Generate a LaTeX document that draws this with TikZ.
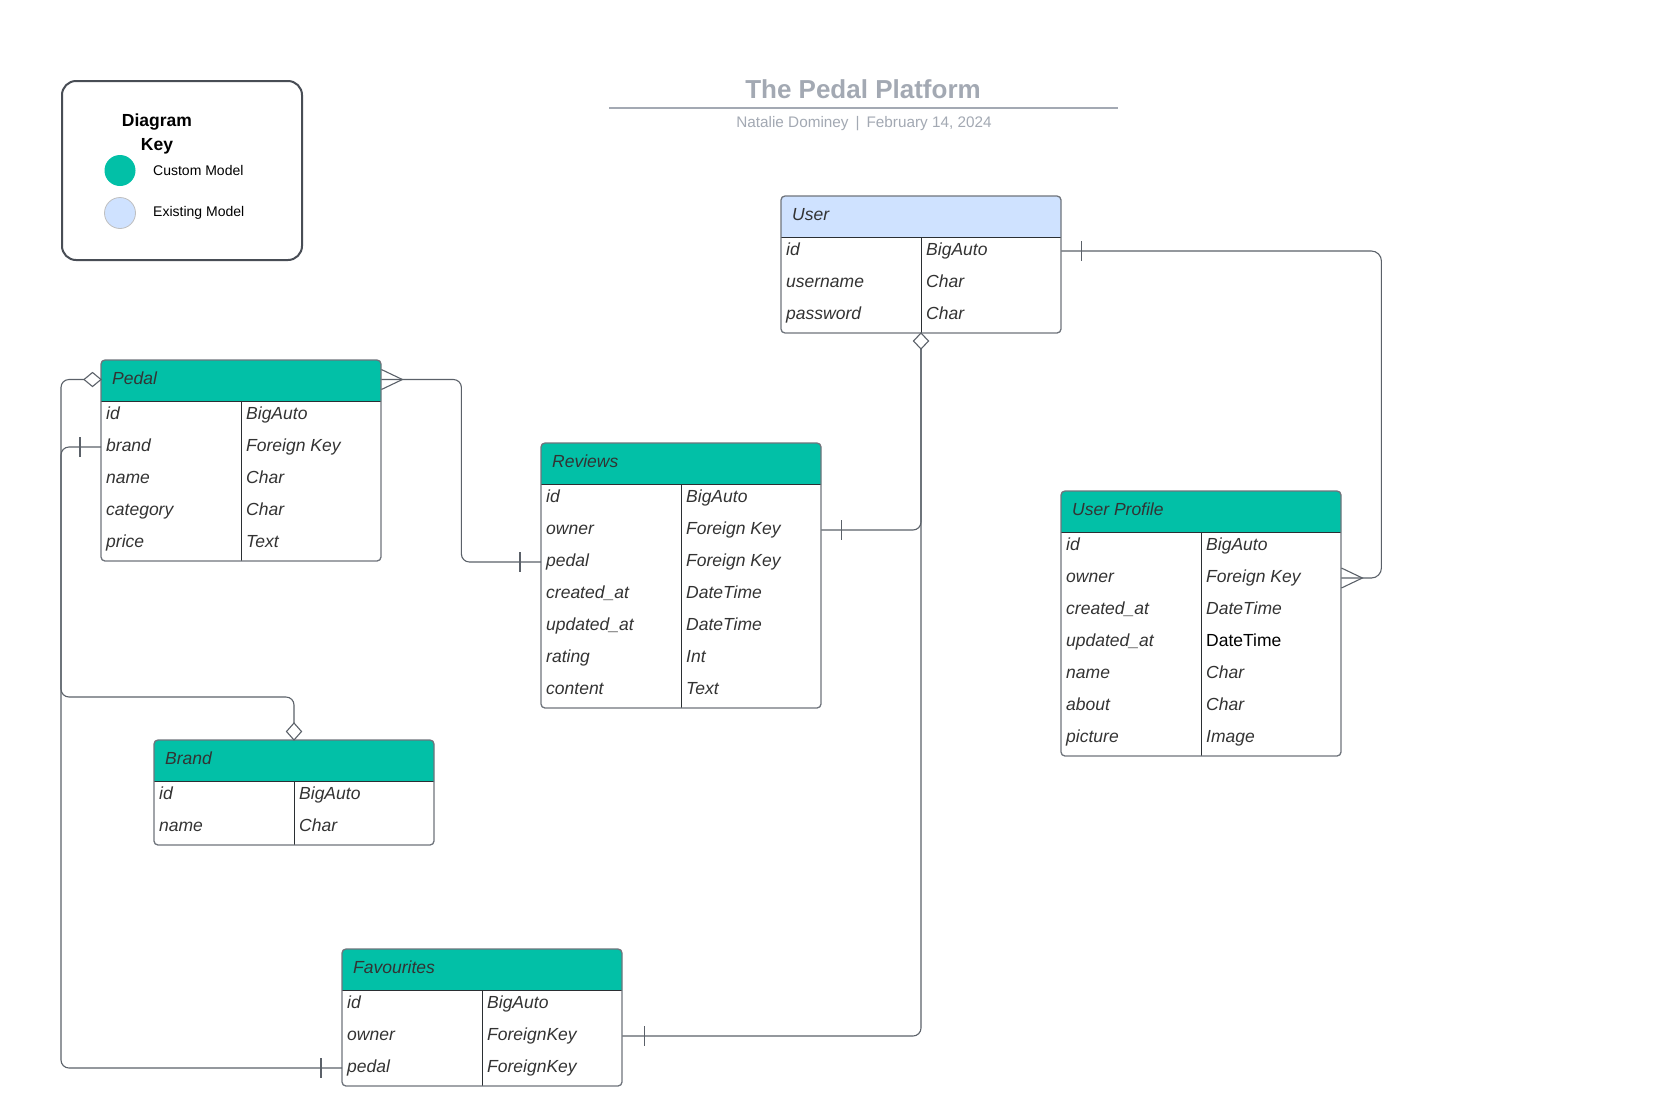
\documentclass[tikz,border=0pt]{standalone}
\usepackage{fontspec}
\setmainfont{Liberation Sans}
\usetikzlibrary{calc}
\definecolor{tealc}{HTML}{02C0A7}
\definecolor{bluec}{HTML}{CFE2FF}
\definecolor{connc}{HTML}{5B6169}
\definecolor{boxc}{HTML}{6F747C}
\definecolor{inkc}{HTML}{2B2F33}
\definecolor{txtc}{HTML}{333333}
\definecolor{titlec}{HTML}{A3A9B3}
\definecolor{legc}{HTML}{484D55}
\tikzset{
  conn/.style={draw=connc, line width=1.1pt},
  dmd/.style={draw=connc, fill=white, line width=1.1pt},
  hdrline/.style={draw=inkc, line width=1pt},
  boxline/.style={draw=boxc, line width=1.3pt},
  celltext/.style={anchor=west, inner sep=0pt, text height=12.5pt, text depth=3.5pt,
    font=\fontsize{17.5}{20}\selectfont\itshape, text=txtc},
  hdrtext/.style={celltext},
  tablebox/.style={anchor=north west, inner sep=0pt, minimum width=280pt},
}
% #1 name, #2 left, #3 top, #4 title, #5 header colour, #6 rows, #7 row list
\newcommand\ertable[7]{%
  \pgfmathsetmacro\erHB{#3+41}%
  \pgfmathsetmacro\erBT{#3+41+32*#6}%
  \fill[white, rounded corners=4pt] (#2,#3) rectangle (#2+280,\erBT);
  \begin{scope}
    \clip (#2-2,#3-2) rectangle (#2+282,\erHB);
    \fill[#5, rounded corners=4pt] (#2,#3) rectangle (#2+280,\erHB+8);
  \end{scope}
  \draw[hdrline] (#2,\erHB) -- (#2+280,\erHB);
  \draw[hdrline] (#2+140,\erHB) -- (#2+140,\erBT);
  \draw[boxline, rounded corners=4pt] (#2,#3) rectangle (#2+280,\erBT);
  \node[tablebox, minimum height=41+32*#6] (#1) at (#2,#3) {};
  \coordinate (#1-divb) at (#2+140,\erBT);
  \node[hdrtext] (#1-title) at (#2+11,#3+19.5) {#4};
  \foreach \ea/\eb [count=\ei] in {#7} {
    \node[celltext] (#1-r\ei) at (#2+5,#3+41+32*\ei-18) {\ea};
    \node[celltext] (#1-t\ei) at (#2+145,#3+41+32*\ei-18) {\eb};
  }
}
\begin{document}
\begin{tikzpicture}[x=1pt,y=-1pt]
\useasboundingbox (0,0) rectangle (1662,1109);
\fill[white] (0,0) rectangle (1662,1109);

% legend
\node[draw=legc, line width=2pt, rounded corners=14pt, minimum width=240pt,
  minimum height=179pt, anchor=north west, inner sep=0pt] (legend) at (61,80) {};
\node[font=\bfseries\fontsize{17.5}{24}\selectfont, align=center, inner sep=0pt] (legtitle) at (157,134) {Diagram\\Key};
\node[circle, fill=tealc, minimum size=31pt, inner sep=0pt] (legc1) at (120,170.5) {};
\node[circle, fill=bluec, draw=black!25, line width=0.8pt, minimum size=31pt, inner sep=0pt] (legc2) at (120,213) {};
\node[anchor=west, inner sep=0pt, font=\fontsize{14}{16}\selectfont] (legt1) at (153,170.5) {Custom Model};
\node[anchor=west, inner sep=0pt, font=\fontsize{14}{16}\selectfont] (legt2) at (153,213) {Existing Model};

% title
\node[font=\bfseries\fontsize{26}{30}\selectfont, text=titlec, inner sep=0pt] (title) at (863,89) {The Pedal Platform};
\draw[titlec, line width=1.6pt] (609,108) -- (1118,108);
\node[font=\fontsize{15.3}{18}\selectfont, text=titlec, inner sep=0pt] (subtitle) at (864,124)
  {Natalie Dominey\hspace{7pt}|\hspace{7pt}February 14, 2024};

% tables
\ertable{user}{781}{196}{User}{bluec}{3}{id/BigAuto, username/Char, password/Char}
\ertable{pedal}{101}{360}{Pedal}{tealc}{5}{id/BigAuto, brand/Foreign Key, name/Char, category/Char, price/Text}
\ertable{reviews}{541}{443}{Reviews}{tealc}{7}{id/BigAuto, owner/Foreign Key, pedal/Foreign Key,
  created\_at/DateTime, updated\_at/DateTime, rating/Int, content/Text}
\ertable{profile}{1061}{491}{User Profile}{tealc}{7}{id/BigAuto, owner/Foreign Key,
  created\_at/DateTime, updated\_at/{\upshape\color{black}DateTime}, name/Char, about/Char, picture/Image}
\ertable{brand}{154}{740}{Brand}{tealc}{2}{id/BigAuto, name/Char}
\ertable{favs}{342}{949}{Favourites}{tealc}{3}{id/BigAuto, owner/ForeignKey, pedal/ForeignKey}

% helper bus coordinates
\coordinate (lbus) at ($(pedal.west |- pedal-title)+(-40,0)$);
\coordinate (bbus) at (61,697);

% Pedal -> Reviews (many to one)
\draw[conn, rounded corners=8pt] (pedal.east |- pedal-title) -- ++(80,0) |- (reviews.west |- reviews-r3);
\draw[conn] (pedal.east |- pedal-title) ++(0,-10) -- ++(21,10) -- ++(-21,10);
\draw[conn] (reviews.west |- reviews-r3) ++(-21,-10) -- ++(0,20);

% User -> Reviews, Favourites
\draw[conn, rounded corners=8pt] ($(user-divb)+(0,16)$) |- (reviews.east |- reviews-r2);
\draw[conn, rounded corners=8pt] ($(user-divb)+(0,16)$) |- (favs.east |- favs-r2);
\draw[conn] (reviews.east |- reviews-r2) ++(20,-10) -- ++(0,20);
\draw[conn] (favs.east |- favs-r2) ++(22,-10) -- ++(0,20);
\draw[dmd] (user-divb) -- ++(7.5,8) -- ++(-7.5,8) -- ++(-7.5,-8) -- cycle;

% User -> User Profile
\draw[conn, rounded corners=10pt] (user.east |- user-r1) -- ++(320,0) |- (profile.east |- profile-r2);
\draw[conn] (user.east |- user-r1) ++(20,-10) -- ++(0,20);
\draw[conn] (profile.east |- profile-r2) ++(0,-10) -- ++(21,10) -- ++(-21,10);

% Pedal -> Favourites
\draw[conn, rounded corners=8pt] ($(pedal.west |- pedal-title)+(-17,0)$) -- (lbus) |- (favs.west |- favs-r3);
\draw[conn] (favs.west |- favs-r3) ++(-21,-10) -- ++(0,20);
\draw[dmd] (pedal.west |- pedal-title) -- ++(-8.5,-7) -- ++(-8.5,7) -- ++(8.5,7) -- cycle;

% Pedal brand -> Brand
\draw[conn, rounded corners=8pt] (pedal.west |- pedal-r2) -| (bbus) -| ($(brand-divb |- brand.north)+(0,-17)$);
\draw[conn] (pedal.west |- pedal-r2) ++(-21,-10) -- ++(0,20);
\draw[dmd] (brand-divb |- brand.north) -- ++(-7.5,-8.5) -- ++(7.5,-8.5) -- ++(7.5,8.5) -- cycle;
\end{tikzpicture}
\end{document}
